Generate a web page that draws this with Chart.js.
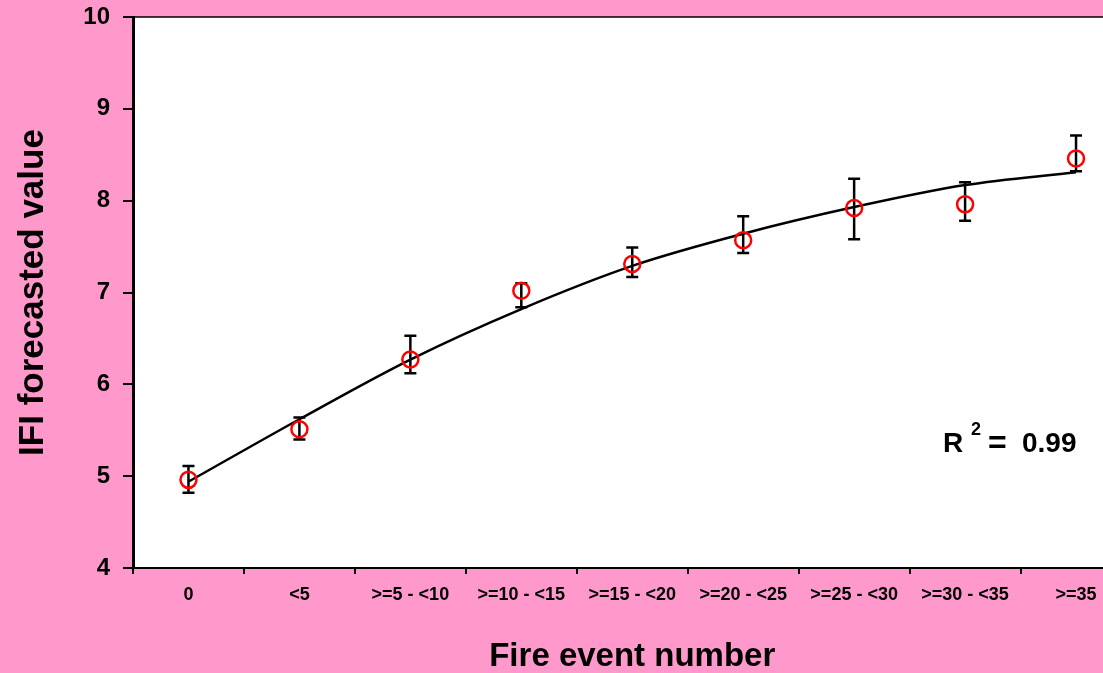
<!DOCTYPE html>
<html>
<head>
<meta charset="UTF-8">
<title>IFI forecasted value</title>
<script src="https://cdn.jsdelivr.net/npm/chart.js@4.4.1/dist/chart.umd.min.js"></script>
<style>
	html, body { margin:0; padding:0; overflow:hidden; background:#ff99cc; }
	#wrap { width:1103px; height:673px; overflow:hidden; }
</style>
</head>
<body>
<div id="wrap"><canvas id="myChart" width="1142" height="673"></canvas></div>

<script>
	// categories + values
	const categories = ['0', '<5', '>=5 - <10', '>=10 - <15', '>=15 - <20', '>=20 - <25', '>=25 - <30', '>=30 - <35', '>=35'];
	const meanValues = [4.96, 5.51, 6.27, 7.02, 7.31, 7.57, 7.92, 7.96, 8.46];
	const errLow = [4.82, 5.40, 6.12, 6.84, 7.17, 7.43, 7.58, 7.78, 8.32];
	const errHigh = [5.11, 5.64, 6.53, 7.10, 7.49, 7.83, 8.24, 8.20, 8.71];
	const fitValues = [4.94, 5.62, 6.27, 6.82, 7.29, 7.64, 7.93, 8.17, 8.31];
	const yTicks = [4, 5, 6, 7, 8, 9, 10];
	const rSquared = '0.99';

	// error bars: pairs of points per category, null in between breaks the line
	let errData = [];
	categories.forEach(function(c, i) {
		errData.push({x: c, y: errLow[i]});
		errData.push({x: c, y: errHigh[i]});
		errData.push({x: c, y: null});
	});

	const FONT = "'Liberation Sans', Arial, sans-serif";

	const bgPlugin = {
		id: 'bg',
		beforeDraw: function(chart) {
			const ctx = chart.ctx, a = chart.chartArea;
			ctx.save();
			ctx.fillStyle = '#ff99cc';
			ctx.fillRect(0, 0, chart.width, chart.height);
			ctx.fillStyle = '#ffffff';
			ctx.fillRect(a.left, a.top, a.right - a.left, a.bottom - a.top);
			ctx.strokeStyle = '#000';
			ctx.lineWidth = 1.5;
			ctx.beginPath();
			ctx.moveTo(a.left, a.top);
			ctx.lineTo(a.right, a.top);
			ctx.stroke();
			ctx.restore();
		},
		afterDraw: function(chart) {
			// R² label, placed relative to the plot area
			const ctx = chart.ctx, a = chart.chartArea;
			ctx.save();
			ctx.fillStyle = '#000';
			ctx.textBaseline = 'alphabetic';
			ctx.font = 'bold 28px ' + FONT;
			ctx.fillText('R', a.left + 810, a.top + 435);
			ctx.font = 'bold 32px ' + FONT;
			ctx.fillText('=', a.left + 855, a.top + 436);
			ctx.font = 'bold 28px ' + FONT;
			ctx.fillText(rSquared, a.left + 889, a.top + 435);
			ctx.font = 'bold 18px ' + FONT;
			ctx.fillText('2', a.left + 838, a.top + 418);
			ctx.restore();
		}
	};

	new Chart('myChart', {
		type: 'line',
		data: {
			labels: categories,
			datasets: [{
				data: meanValues,
				showLine: false,
				pointStyle: 'circle',
				pointRadius: 8,
				pointBorderWidth: 2.5,
				pointBorderColor: '#ff0000',
				pointBackgroundColor: 'rgba(0,0,0,0)',
				order: 1
			}, {
				data: errData,
				borderColor: '#000',
				borderWidth: 2.5,
				spanGaps: false,
				pointStyle: 'line',
				pointRadius: 6,
				pointBorderWidth: 2.5,
				pointBorderColor: '#000',
				order: 2
			}, {
				data: fitValues,
				borderColor: '#000',
				borderWidth: 2.5,
				pointRadius: 0,
				cubicInterpolationMode: 'monotone',
				order: 3
			}]
		},
		options: {
			responsive: false,
			animation: false,
			events: [],
			layout: { padding: { top: 17, right: 0, bottom: 0, left: 0 } },
			plugins: { legend: { display: false }, tooltip: { enabled: false } },
			scales: {
				x: {
					type: 'category',
					offset: true,
					afterFit: function(s) { s.height = 105; s.paddingLeft = 0; s.paddingRight = 0; },
					grid: { offset: true, drawOnChartArea: false, drawTicks: true, tickLength: 6, color: '#000', lineWidth: 2 },
					border: { display: true, color: '#000', width: 2 },
					ticks: { color: '#000', padding: 10, maxRotation: 0, autoSkip: false, font: { family: FONT, size: 18, weight: 'bold' } },
					title: { display: true, text: 'Fire event number', color: '#000', padding: { top: 0, bottom: 0 }, font: { family: FONT, size: 33, weight: 'bold', lineHeight: 1 } }
				},
				y: {
					min: 4,
					max: 10,
					afterFit: function(s) { s.width = 133; s.paddingTop = 0; s.paddingBottom = 0; },
					afterBuildTicks: function(s) { s.ticks = yTicks.map(function(v) { return {value: v}; }); },
					grid: { drawOnChartArea: false, drawTicks: true, tickLength: 10, color: '#000', lineWidth: 2 },
					border: { display: true, color: '#000', width: 3 },
					ticks: { color: '#000', padding: 13, font: { family: FONT, size: 24, weight: 'bold' } },
					title: { display: true, text: 'IFI forecasted value', color: '#000', padding: { top: 12, bottom: 0 }, font: { family: FONT, size: 35, weight: 'bold' } }
				}
			}
		},
		plugins: [bgPlugin]
	});
</script>
</body>
</html>
